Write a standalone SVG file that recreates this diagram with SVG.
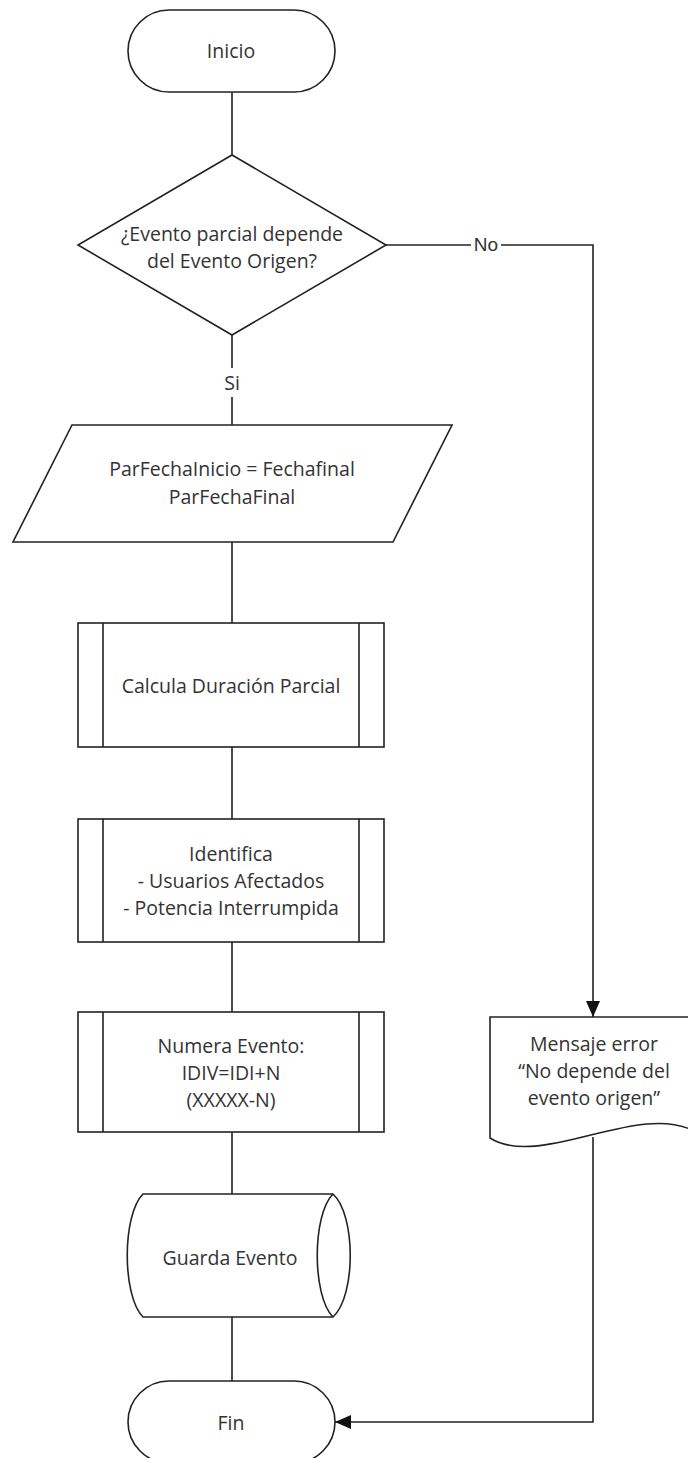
<svg xmlns="http://www.w3.org/2000/svg" width="688" height="1458" viewBox="0 0 688 1458">
<defs>
<style>
.s{fill:#fff;stroke:#222;stroke-width:1.6}
.c{fill:none;stroke:#222;stroke-width:1.6}
.t{font-family:"Open Sans","Noto Sans",sans-serif;font-size:19.5px;fill:#333;text-anchor:middle;dominant-baseline:central}
.l{font-family:"Liberation Sans",Arial,sans-serif;font-size:19px;fill:#333;text-anchor:middle;dominant-baseline:central}
</style>
<marker id="arr" markerUnits="userSpaceOnUse" markerWidth="16" markerHeight="14" refX="16" refY="7" orient="auto">
<path d="M0,0 L16,7 L0,14 z" fill="#111"/>
</marker>
</defs>
<rect width="688" height="1458" fill="#fff"/>
<g id="connectors">
<path class="c" d="M232,92 V155"/>
<path class="c" d="M232,335 V368 M232,397 V425"/>
<path class="c" d="M385,245 H471 M501,245 H593 V1017" marker-end="url(#arr)"/>
<path class="c" d="M232,542 V623"/>
<path class="c" d="M232,747 V819"/>
<path class="c" d="M232,942 V1012"/>
<path class="c" d="M232,1132 V1194"/>
<path class="c" d="M232,1317 V1381"/>
<path class="c" d="M593,1137 V1422 H335" marker-end="url(#arr)"/>
<text class="t" x="232" y="382">Si</text>
<text class="l" x="486" y="244">No</text>
</g>
<g id="inicio">
<rect class="s" x="128" y="10" width="207" height="82" rx="41" ry="41"/>
<text class="t" x="231" y="50">Inicio</text>
</g>
<g id="decision">
<path class="s" d="M232,155 L386,245 L232,335 L78,245 Z"/>
<text class="t" x="232" y="233">¿Evento parcial depende</text>
<text class="t" x="232" y="260">del Evento Origen?</text>
</g>
<g id="input">
<path class="s" d="M72,425 L452,425 L393,542 L13,542 Z"/>
<text class="t" x="232" y="468">ParFechaInicio = Fechafinal</text>
<text class="t" x="232" y="496">ParFechaFinal</text>
</g>
<g id="calcula">
<rect class="s" x="78" y="623" width="306" height="124"/>
<path class="c" d="M103,623 V747 M359,623 V747"/>
<text class="t" x="231" y="685">Calcula Duración Parcial</text>
</g>
<g id="identifica">
<rect class="s" x="78" y="819" width="306" height="123"/>
<path class="c" d="M103,819 V942 M359,819 V942"/>
<text class="t" x="231" y="853">Identifica</text>
<text class="t" x="231" y="880">- Usuarios Afectados</text>
<text class="t" x="231" y="907">- Potencia Interrumpida</text>
</g>
<g id="numera">
<rect class="s" x="78" y="1012" width="306" height="120"/>
<path class="c" d="M103,1012 V1132 M359,1012 V1132"/>
<text class="t" x="231" y="1045">Numera Evento:</text>
<text class="t" x="231" y="1072">IDIV=IDI+N</text>
<text class="t" x="231" y="1099">(XXXXX-N)</text>
</g>
<g id="guarda">
<path class="s" d="M143,1194 H333 C356,1215 356,1296 333,1317 H143 C122,1296 122,1215 143,1194 Z"/>
<path class="c" d="M333,1194 C312,1215 312,1296 333,1317"/>
<text class="t" x="230" y="1257">Guarda Evento</text>
</g>
<g id="mensaje">
<path class="s" d="M490,1017 H696 V1132 C640,1100 540,1170 490,1138 Z"/>
<text class="t" x="594" y="1043">Mensaje error</text>
<text class="t" x="594" y="1070">“No depende del</text>
<text class="t" x="594" y="1097">evento origen”</text>
</g>
<g id="fin">
<rect class="s" x="128" y="1381" width="207" height="82" rx="41" ry="41"/>
<text class="t" x="231" y="1422">Fin</text>
</g>
</svg>
